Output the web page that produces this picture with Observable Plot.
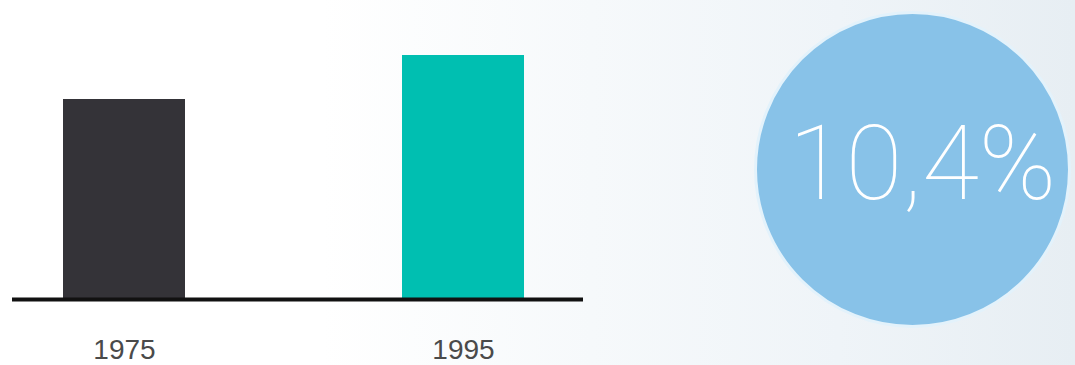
<!DOCTYPE html>
<html>
<head>
<meta charset="utf-8">
<script src="https://cdn.jsdelivr.net/npm/d3@7"></script>
<script src="https://cdn.jsdelivr.net/npm/@observablehq/plot@0.6"></script>
<style>
  html, body { margin: 0; padding: 0; background: #fff; }
  #wrap {
    position: relative; width: 1075px; height: 365px; overflow: hidden;
    background: linear-gradient(to right, #ffffff 0%, #ffffff 30%, #f6f9fb 55%, #eff4f8 78%, #e7eef3 100%);
  }
  #bars { position: absolute; left: 0; top: 0; }
  #bubble { position: absolute; left: 740px; top: 0; }
</style>
</head>
<body>
<div id="wrap"><div id="bars"></div><div id="bubble"></div></div>
<script>
// Data (1975 indexed to 100)
const years = ["1975", "1995"];
const values = [100, 122];
const barColors = ["#343338", "#00bfb1"];
const growth = [10.4];

const rows = years.map((year, i) => ({year, value: values[i], color: barColors[i]}));

const bars = Plot.plot({
  width: 600,
  height: 365,
  marginLeft: 12,
  marginRight: 17,
  marginTop: 55,
  marginBottom: 66,
  style: {background: "transparent", fontFamily: "Liberation Sans, Arial, sans-serif"},
  x: {domain: years, paddingInner: 0.64, paddingOuter: 0.162, align: 0.464},
  y: {domain: [0, 122], axis: null},
  marks: [
    Plot.barY(rows, {x: "year", y: "value", fill: "color"}),
    Plot.ruleY([0], {stroke: "#111", strokeWidth: 4}),
    Plot.axisX({tickSize: 0, tickPadding: 40, fontSize: 28, fill: "#4a4a4a", label: null})
  ]
});
document.getElementById("bars").appendChild(bars);

const fmt = v => String(v).replace(".", ",") + "%";

const bubble = Plot.plot({
  width: 335,
  height: 365,
  marginLeft: 9,
  marginRight: 0,
  marginTop: 0,
  marginBottom: 27,
  style: {background: "transparent", overflow: "visible"},
  marks: [
    Plot.dot(growth, {frameAnchor: "middle", r: 157, fill: "#88c2e8", stroke: "#e3f2fb", strokeWidth: 3}),
    Plot.text(growth, {frameAnchor: "middle", text: d => fmt(d), fill: "#ffffff", fontSize: 104,
      fontWeight: 100, fontFamily: "Roboto, Inter, sans-serif", dx: 10, dy: -4})
  ]
});
document.getElementById("bubble").appendChild(bubble);
</script>
</body>
</html>
